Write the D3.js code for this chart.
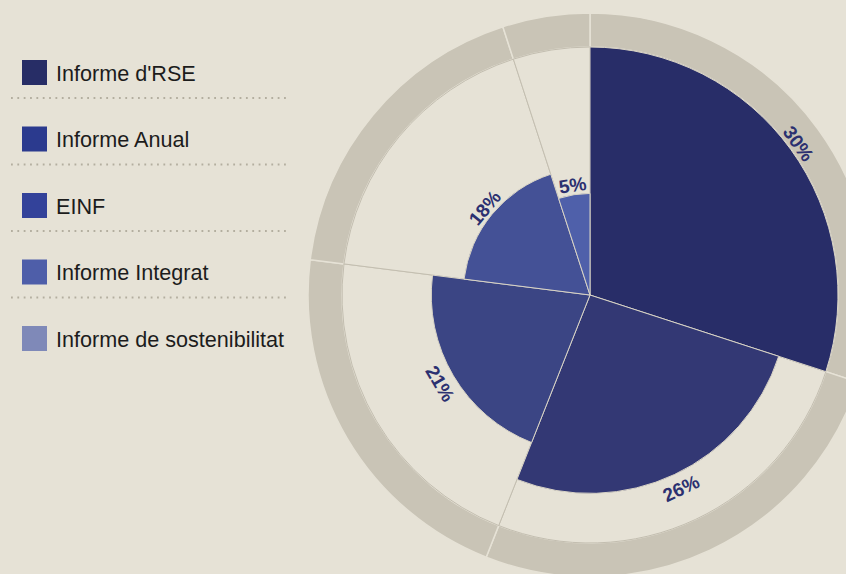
<!DOCTYPE html>
<html>
<head>
<meta charset="utf-8">
<script src="https://cdn.jsdelivr.net/npm/d3@7"></script>
<style>
    html, body { margin: 0; padding: 0; background: #e6e2d6; }
    svg { display: block; }
</style>
</head>
<body>
<div class="chart"></div>
<script>
// data
const categories = ["Informe d'RSE", "Informe Anual", "EINF", "Informe Integrat", "Informe de sostenibilitat"]
const values = [30, 26, 21, 18, 5]
const valueLabels = ["30%", "26%", "21%", "18%", "5%"]

// styles
const legendColors = ["#272d66", "#2b3a8e", "#33429a", "#4e5ea9", "#7f89b8"]
const sliceColors = ["#282d68", "#333874", "#3b4584", "#445196", "#4f60aa"]

function PolarChart(){
    let config = {
        width: 846,
        height: 574,
        cx: 590,
        cy: 295,
        rMax: 248,
        ringWidth: 34,
        step: 0.8
    }

    let svg = d3.select(".chart")
        .append("svg")
        .attr("width", config.width)
        .attr("height", config.height)

    svg.append("rect")
        .attr("width", config.width)
        .attr("height", config.height)
        .attr("fill", "#e6e2d6")

    // legend
    let legend = svg.append("g").attr("class", "legend")
    let ly = d3.scaleLinear().domain([0, 1]).range([60, 126.5])

    let items = legend.selectAll("g.item")
        .data(categories)
        .join("g")
        .attr("class", "item")
        .attr("transform", (d, i) => `translate(0,${ly(i)})`)

    items.append("rect")
        .attr("x", 22)
        .attr("width", 25)
        .attr("height", 25)
        .attr("fill", (d, i) => legendColors[i])

    items.append("text")
        .attr("x", 56)
        .attr("y", 20.8)
        .attr("font-family", "'Liberation Sans', Arial, sans-serif")
        .attr("font-size", 21.6)
        .attr("fill", "#1c1c1c")
        .text(d => d)

    items.filter((d, i) => i < categories.length - 1)
        .append("line")
        .attr("x1", 11)
        .attr("x2", 286)
        .attr("y1", 38)
        .attr("y2", 38)
        .attr("stroke", "#b3ae9f")
        .attr("stroke-width", 1.8)
        .attr("stroke-dasharray", "1.8 4.55")

    // polar part
    let g = svg.append("g")
        .attr("transform", `translate(${config.cx},${config.cy})`)

    let pie = d3.pie()
        .sort(null)
        .value(d => d)
        .startAngle(0)
        .endAngle(2 * Math.PI)

    let arcs = pie(values)

    // radius by rank: each smaller share is drawn 0.8x the next bigger one
    let order = values.map((v, i) => i).sort((a, b) => values[b] - values[a])
    let rank = {}
    order.forEach((idx, k) => rank[idx] = k)
    let radius = i => config.rMax * Math.pow(config.step, rank[i])

    let ring = d3.arc()
        .innerRadius(config.rMax)
        .outerRadius(config.rMax + config.ringWidth)

    g.selectAll("path.ring")
        .data(arcs)
        .join("path")
        .attr("class", "ring")
        .attr("fill", "#c9c4b6")
        .attr("stroke", "#e6e2d6")
        .attr("stroke-width", 1.5)
        .attr("d", ring)

    let inner = d3.arc()
        .innerRadius(0)
        .outerRadius(config.rMax)

    g.selectAll("path.inner")
        .data(arcs)
        .join("path")
        .attr("class", "inner")
        .attr("fill", "#e6e2d6")
        .attr("stroke", "#c3beb0")
        .attr("stroke-width", 1)
        .attr("d", inner)

    let slice = d3.arc()
        .innerRadius(0)
        .outerRadius((d) => radius(d.index))

    g.selectAll("path.slice")
        .data(arcs)
        .join("path")
        .attr("class", "slice")
        .attr("fill", d => sliceColors[d.index])
        .attr("stroke", "#d9d4c6")
        .attr("stroke-width", 1)
        .attr("d", slice)

    // labels tangent to the arc, just outside each slice
    g.selectAll("text.label")
        .data(arcs)
        .join("text")
        .attr("class", "label")
        .attr("transform", d => {
            let a = (d.startAngle + d.endAngle) / 2
            let deg = a * 180 / Math.PI
            let upper = Math.cos(a) > 0
            let r = radius(d.index) + (upper ? 3 : 22)
            let x = Math.sin(a) * r
            let y = -Math.cos(a) * r
            let rot = upper ? deg : deg - 180
            return `translate(${x},${y}) rotate(${rot})`
        })
        .attr("text-anchor", "middle")
        .attr("font-family", "'Liberation Sans', Arial, sans-serif")
        .attr("font-weight", "bold")
        .attr("font-size", 19)
        .attr("fill", "#2b3070")
        .text(d => valueLabels[d.index])
}

PolarChart()
</script>
</body>
</html>
